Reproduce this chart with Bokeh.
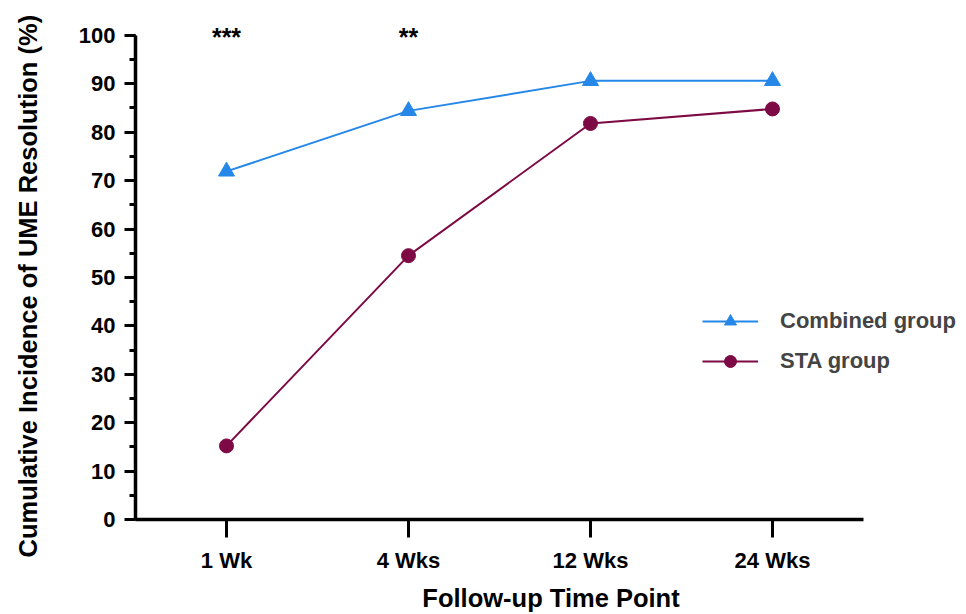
from bokeh.plotting import figure
from bokeh.models import (FixedTicker, Legend, LegendItem, ColumnDataSource, Range1d, Title)
from bokeh.core.properties import value
from bokeh.embed import file_html
from bokeh.resources import INLINE

timepoints = ["1 Wk", "4 Wks", "12 Wks", "24 Wks"]
combined = [71.9, 84.4, 90.6, 90.6]
sta = [15.2, 54.5, 81.8, 84.8]
sig_labels = ["***", "**"]
sig_pos = [0, 1]
sig_y = [99.6, 99.6]

x = list(range(len(timepoints)))
BLUE = "#2587e8"
MAROON = "#7d0a45"
FONT = "Liberation Sans"

p = figure(width=966, height=614, output_backend="svg", toolbar_location=None,
           x_range=Range1d(-0.5, 4.066), y_range=Range1d(0, 107.2),
           min_border_left=135, min_border_right=0, min_border_top=0, min_border_bottom=94)
p.outline_line_color = None
p.grid.visible = False
p.background_fill_color = "white"

l1 = p.line(x, combined, line_color=BLUE, line_width=2)
m1 = p.scatter(x, combined, marker="triangle", size=16, fill_color=BLUE, line_color=BLUE)
l2 = p.line(x, sta, line_color=MAROON, line_width=2)
m2 = p.scatter(x, sta, marker="circle", size=14, fill_color=MAROON, line_color=MAROON)

src = ColumnDataSource(dict(x=sig_pos, y=sig_y, t=sig_labels))
p.text(x="x", y="y", text="t", source=src, text_align="center",
       text_baseline="alphabetic", text_font=value(FONT), text_font_style="bold",
       text_font_size="25px", text_color="black")

# axes
for ax in (p.xaxis[0], p.yaxis[0]):
    ax.axis_line_width = 3.5
    ax.axis_line_color = "black"
    ax.major_tick_line_width = 3
    ax.minor_tick_line_width = 3
    ax.major_tick_line_color = "black"
    ax.minor_tick_line_color = "black"
    ax.major_tick_in = 0
    ax.minor_tick_in = 0
    ax.major_label_text_font = FONT
    ax.major_label_text_font_style = "bold"
    ax.major_label_text_font_size = "22px"
    ax.major_label_text_color = "black"
    ax.axis_label_text_font = FONT
    ax.axis_label_text_font_style = "bold"
    ax.axis_label_text_font_size = "25.5px"
    ax.axis_label_text_color = "black"

p.yaxis.bounds = (0, 100)
p.yaxis.ticker = FixedTicker(ticks=list(range(0, 101, 10)), minor_ticks=list(range(0, 101, 5)))
p.yaxis.major_tick_out = 11
p.yaxis.minor_tick_out = 6
p.yaxis.major_label_standoff = 9

spacer = Title(text=" ", text_font_size="1px", standoff=30)
p.add_layout(spacer, "left")
ytitle = Title(text="Cumulative Incidence of UME Resolution (%)", align="left", offset=-38,
               vertical_align="middle", standoff=0, text_font=FONT, text_font_style="bold",
               text_font_size="25.5px", text_color="black")
p.add_layout(ytitle, "left")

p.xaxis.bounds = (-0.5, 3.5)
p.xaxis.ticker = FixedTicker(ticks=x, minor_ticks=[])
p.xaxis.major_label_overrides = {i: t for i, t in zip(x, timepoints)}
p.xaxis.major_tick_out = 18
p.xaxis.minor_tick_out = 0
p.xaxis.major_label_standoff = 10
p.xaxis.axis_label = "Follow-up Time Point"
p.xaxis.axis_label_standoff = 8

legend = Legend(items=[LegendItem(label="Combined group", renderers=[l1, m1]),
                       LegendItem(label="STA group", renderers=[l2, m2])],
                location=(567, 143), orientation="vertical")
legend.border_line_color = None
legend.background_fill_alpha = 0
legend.label_text_font = FONT
legend.label_text_font_style = "bold"
legend.label_text_font_size = "22px"
legend.glyph_width = 56
legend.glyph_height = 30
legend.label_standoff = 22
legend.spacing = 10
legend.padding = 0
legend.margin = 0
p.add_layout(legend, "center")

open("out.html", "w").write(file_html(p, INLINE))
